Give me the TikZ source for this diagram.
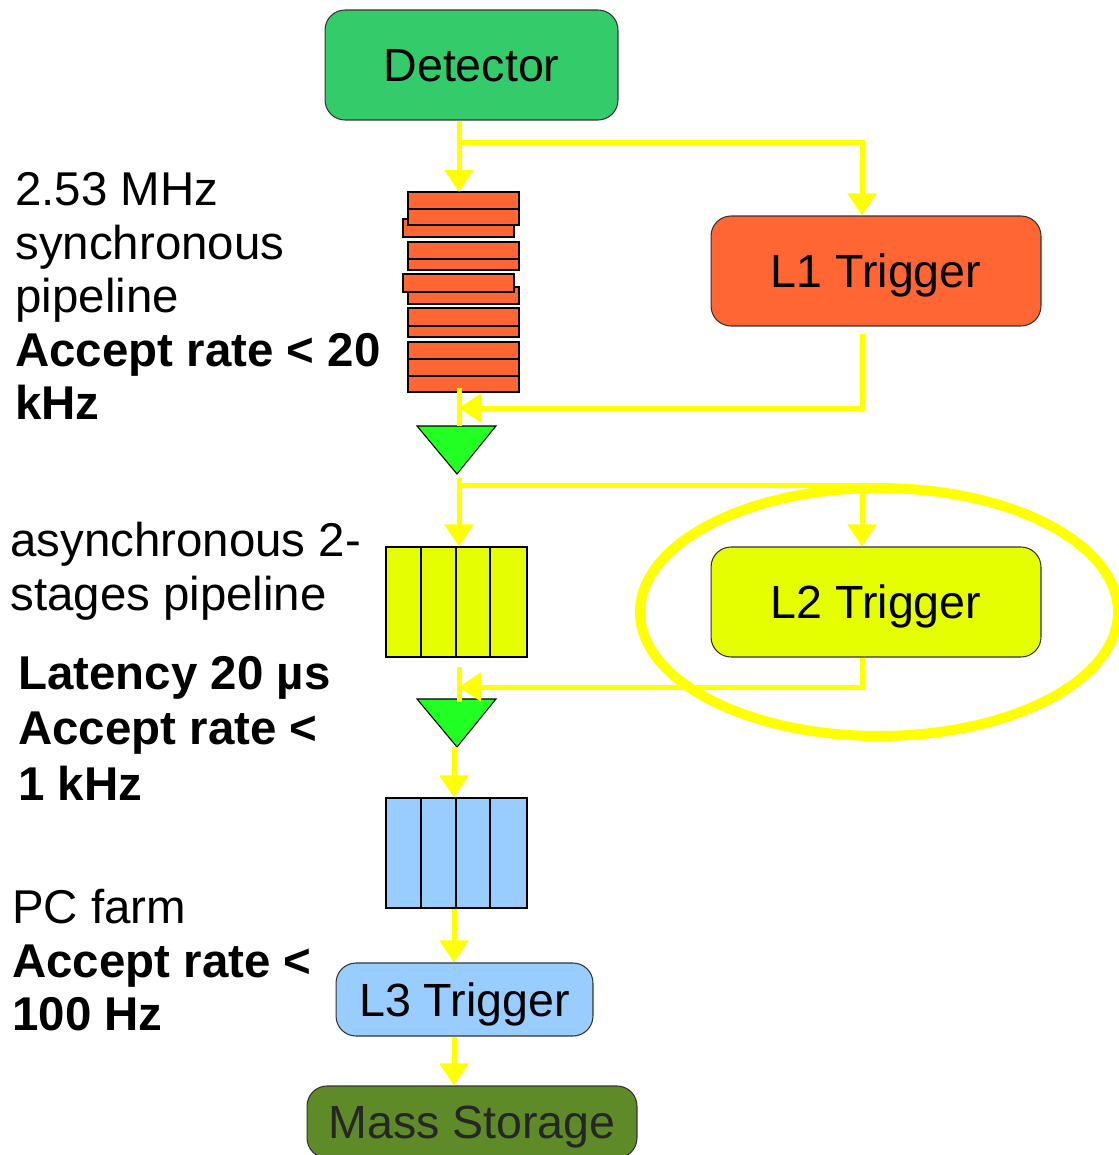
\documentclass[tikz,border=0pt]{standalone}
\usepackage{fontspec}
\setmainfont{Liberation Sans}
\usetikzlibrary{arrows.meta}
\definecolor{detgreen}{RGB}{52,204,106}
\definecolor{lonered}{RGB}{255,102,51}
\definecolor{ltwoyellow}{RGB}{230,255,0}
\definecolor{lthreeblue}{RGB}{153,204,255}
\definecolor{massgreen}{RGB}{94,138,40}
\definecolor{gategreen}{RGB}{34,255,34}
\definecolor{flowyellow}{RGB}{255,255,0}

\begin{document}
\begin{tikzpicture}[x=0.02cm, y=-0.02cm, >={Triangle[width=0.56cm,length=0.44cm]},
  box/.style={draw=black!80, line width=0.6pt, rounded corners=0.4cm, minimum width=6.6cm, minimum height=2.2cm, inner sep=0pt, text depth=0pt, font=\fontsize{26.5}{30}\selectfont},
  buffer/.style={draw=black, line width=0.6pt, minimum width=2.82cm, minimum height=2.2cm, inner sep=0pt},
  slab/.style={draw=black, line width=0.6pt, fill=lonered},
  gate/.style={draw=black, line width=0.6pt, fill=gategreen},
  flow/.style={draw=flowyellow, line width=0.1cm},
  note/.style={anchor=north west, align=left, inner sep=0pt, font=\fontsize{27}{30.5}\selectfont}]
  \useasboundingbox (0,0) rectangle (1118,1155);

  % Detector
  \node (det) at (471.5,65) [box, fill=detgreen, minimum width=5.86cm] {Detector};

  % L1 Trigger
  \node (lone) at (876,271) [box, fill=lonered] {L1 Trigger};

  % L2 Trigger
  \node (ltwo) at (876,602) [box, fill=ltwoyellow] {L2 Trigger};

  % L3 Trigger
  \node (lthree) at (464.5,999.5) [box, fill=lthreeblue, minimum width=5.14cm, minimum height=1.46cm] {L3 Trigger};

  % Mass Storage
  \node (mass) at (472,1122) [box, fill=massgreen, text=black!85, minimum height=1.44cm] {Mass Storage};

  % synchronous pipeline (stack of slabs)
  \foreach \xa/\ya/\xb/\yb in {403/219/514/237, 408/192/519/209, 408/209/519/225,
      408/242/519/259, 408/259/519/270, 408/287/519/304, 403/274/514/292,
      408/308/519/326, 408/326/519/337, 408/342/519/359, 408/359/519/376, 408/376/519/392}
    \draw[slab] (\xa,\ya) rectangle (\xb,\yb);
  \coordinate (pipetop) at (459,192);
  \coordinate (pipebot) at (459,388);

  % asynchronous buffers
  \node (ltwobuf) at (456.5,602) [buffer, fill=ltwoyellow] {};
  \foreach \xx in {421,456,490}
    \draw[line width=0.6pt] (\xx,547) -- (\xx,657);
  \node (lthreebuf) at (456.5,853) [buffer, fill=lthreeblue] {};
  \foreach \xx in {421,456,490}
    \draw[line width=0.6pt] (\xx,798) -- (\xx,908);

  % decision gates
  \draw[gate] (417,426) -- (496,426) -- (457,474) -- cycle;
  \coordinate (gateonein) at (459,426);
  \coordinate (gateoneout) at (459,478);
  \draw[gate] (417,699) -- (496,699) -- (457,747) -- cycle;
  \coordinate (gatetwoin) at (459,702);
  \coordinate (gatetwoout) at (454,747);

  % L1 loop
  \coordinate (forkone) at (459,143);
  \coordinate (turnone) at (862,143);
  \coordinate (backone) at (862,408);
  \coordinate (joinone) at (459,408);
  \draw[flow] (det.south -| forkone) -- (forkone);
  \draw[flow,->] (forkone) -- (pipetop);
  \draw[flow,->] (forkone) -- (turnone) -- (turnone |- lone.north);
  \draw[flow,->] ([yshift=-0.14cm]backone |- lone.south) -- (backone) -- (joinone);
  \draw[flow] (pipebot) -- (gateonein);

  % L2 loop
  \coordinate (forktwo) at (459,485);
  \coordinate (turntwo) at (862,485);
  \coordinate (backtwo) at (862,687);
  \coordinate (jointwo) at (459,687);
  \draw[flow,->] (gateoneout) -- (forktwo |- ltwobuf.north);
  \draw[flow,->] (forktwo) -- (turntwo) -- (turntwo |- ltwo.north);
  \draw[flow,->] (backtwo |- ltwo.south) -- (backtwo) -- (jointwo);
  \draw[flow] ([yshift=-0.18cm]forktwo |- ltwobuf.south) -- (gatetwoin);

  % L3 chain
  \draw[flow,->] (gatetwoout) -- (gatetwoout |- lthreebuf.north);
  \draw[flow,->] (gatetwoout |- lthreebuf.south) -- (gatetwoout |- lthree.north);
  \draw[flow,->] (gatetwoout |- lthree.south) -- (gatetwoout |- mass.north);

  % L2 highlight
  \draw[flowyellow, line width=0.2cm] (879,612) ellipse [x radius=4.78cm, y radius=2.48cm];

  % Labels
  \node (syncnote) at (15,172) [note] {2.53 MHz\\synchronous\\pipeline\\\textbf{Accept rate < 20}\\\textbf{kHz}};
  \node (asyncnote) at (10,522) [note] {asynchronous 2-\\stages pipeline};
  \node (latnote) at (18,656) [note, font=\fontsize{27}{31.5}\selectfont\bfseries] {Latency 20 µs\\Accept rate <\\1 kHz};
  \node (farmnote) at (12,889) [note] {PC farm\\\textbf{Accept rate <}\\\textbf{100 Hz}};
\end{tikzpicture}
\end{document}
